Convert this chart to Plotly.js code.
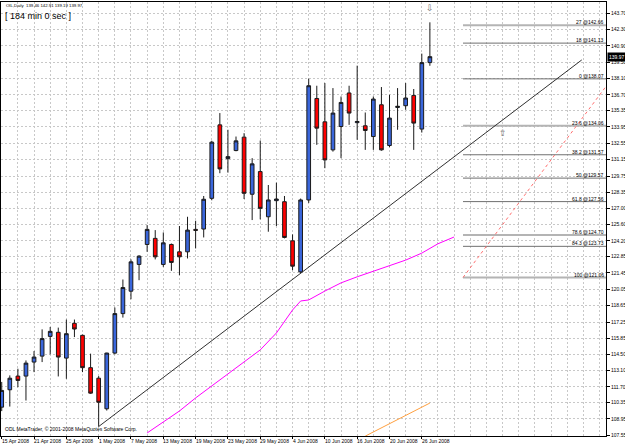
<!DOCTYPE html>
<html><head><meta charset="utf-8">
<script src="https://cdn.plot.ly/plotly-3.0.1.min.js"></script>
<style>html,body{margin:0;padding:0;background:#fff}#chart{width:625px;height:445px}</style>
</head><body><div id="chart"></div>
<script>
// ---- data ----
const dates = ["15 Apr","16 Apr","17 Apr","18 Apr","21 Apr","22 Apr","23 Apr","24 Apr","25 Apr",
  "28 Apr","29 Apr","30 Apr","1 May","2 May","5 May","6 May","7 May","8 May","9 May",
  "12 May","13 May","14 May","15 May","16 May","19 May","20 May","21 May","22 May","23 May",
  "26 May","27 May","28 May","29 May","30 May","2 Jun","3 Jun","4 Jun","5 Jun","6 Jun",
  "9 Jun","10 Jun","11 Jun","12 Jun","13 Jun","16 Jun","17 Jun","18 Jun","19 Jun","20 Jun",
  "23 Jun","24 Jun","25 Jun","26 Jun","27 Jun"];
const open  = [109.96,111.45,112.62,112.62,113.82,114.33,116.02,116.37,114.16,117.14,116.11,113.34,112.44,109.82,114.59,117.97,119.89,122.18,123.89,
  124.41,122.18,123.89,123.26,123.26,125.18,125.21,127.84,134.13,131.24,131.93,133.08,128.19,130.13,126.26,127.64,127.55,124.20,121.54,127.70,
  136.39,134.39,131.99,133.99,136.86,134.32,134.05,133.13,135.85,132.36,135.62,135.77,136.65,133.77,139.46];
const high  = [112.12,112.68,113.25,113.96,114.76,116.62,116.82,116.77,117.46,117.46,116.17,114.54,112.62,114.62,118.49,120.89,122.61,122.97,125.55,
  125.12,124.92,123.97,125.47,126.26,125.92,128.04,132.77,135.14,133.71,133.13,133.42,131.28,132.79,128.98,129.18,128.04,124.75,127.82,138.08,
  137.48,137.71,137.28,136.56,137.48,139.20,135.19,136.56,137.37,136.71,137.28,137.71,137.20,140.23,142.91];
const low   = [109.62,110.01,111.67,110.53,112.96,113.82,114.48,112.59,112.39,115.96,112.96,111.10,108.30,109.67,114.48,117.63,119.20,120.83,123.26,
  122.61,121.97,121.63,121.26,122.69,123.55,124.49,127.67,129.99,130.04,131.87,127.78,125.98,126.04,124.98,125.47,124.41,121.69,121.42,127.45,
  132.42,130.42,131.84,131.28,134.13,132.85,131.99,131.99,131.92,132.22,133.71,135.42,131.99,133.47,139.19];
const close = [111.39,112.44,112.25,113.73,114.25,115.83,116.45,114.25,116.25,116.65,113.34,111.16,110.38,114.59,117.97,120.20,122.40,122.89,125.18,
  122.83,124.03,122.35,122.83,125.12,125.10,127.76,132.65,130.36,131.41,132.76,128.27,130.79,126.98,127.70,127.78,124.49,122.03,127.70,137.48,
  133.85,131.13,135.14,136.05,135.14,134.42,133.65,136.34,131.99,134.71,135.72,136.43,134.28,139.46,139.97];

const dateLabels = ["15 Apr 2008","21 Apr 2008","25 Apr 2008","1 May 2008","7 May 2008","13 May 2008",
  "19 May 2008","23 May 2008","29 May 2008","4 Jun 2008","10 Jun 2008","16 Jun 2008","20 Jun 2008","26 Jun 2008"];
const priceTicks = [143.70,142.30,140.90,139.50,138.10,136.70,135.35,133.95,132.55,131.15,129.75,128.35,127.00,
  125.60,124.20,122.85,121.45,120.05,118.65,117.25,115.85,114.50,113.10,111.70,110.35,108.95,107.55];

const fibLevels = ["27","18","0","23.6","38.2","50","61.8","78.6","84.3","100"];
const fibPrices = [142.66,141.13,138.07,134.06,131.57,129.57,127.56,124.70,123.73,121.06];
const fibStartX = 57.1;

const trendX = [12, 71.8];
const trendY = [108.30, 139.69];
const fibLineX = [57.1, 75.5];
const fibLineY = [121.06, 138.07];

const maX = [18,20,22,24,26,28,30,32,34,36,37,38,40,42,44,46,48,50,52,54,56];
const maY = [107.75,108.69,109.63,110.75,111.77,112.80,113.83,114.86,116.31,118.28,119.05,119.14,119.90,120.60,121.12,121.60,122.05,122.55,123.15,123.95,124.53];
const orX = [45,48,50,53];
const orY = [107.48,108.52,109.20,110.31];

const arrowX = [53, 62];
const arrowY = [144.14, 133.43];
const arrowGlyph = ["\u21e9","\u21e7"];

const title = "OIL,Daily  139.46 142.91 139.19 139.97";
const timer = "[ 184 min 0 sec ]";
const copyright = "ODL MetaTrader, \u00a9 2001-2008 MetaQuotes Software Corp.";
const lastPrice = 139.97;

// ---- build ----
const idx = dates.map((d,i)=>i);
const FONT = "Liberation Sans, Arial, sans-serif";
const traces = [];

const thick = new Set(["27","23.6","78.6","100"]);
fibPrices.forEach((p,i)=>{
  const t = thick.has(fibLevels[i]);
  traces.push({type:'scatter',mode:'lines',x:[fibStartX,80],y:[p,p],
    line:{color:t?'#b4b4b4':'#707070',width:t?2:1},hoverinfo:'skip',showlegend:false});
});
traces.push({type:'scatter',mode:'lines',x:fibLineX,y:fibLineY,line:{color:'#ff7070',width:1,dash:'dot'},showlegend:false});
traces.push({type:'scatter',mode:'lines',x:maX,y:maY,line:{color:'#ff00ff',width:1},showlegend:false});
traces.push({type:'scatter',mode:'lines',x:orX,y:orY,line:{color:'#ffa040',width:1},showlegend:false});
traces.push({type:'scatter',mode:'lines',x:trendX,y:trendY,line:{color:'#303030',width:1},showlegend:false});
traces.push({type:'candlestick',x:idx,open:open,high:high,low:low,close:close,
  increasing:{line:{color:'#1a1a1a',width:1},fillcolor:'#3a66db'},
  decreasing:{line:{color:'#1a1a1a',width:1},fillcolor:'#ff0000'},
  whiskerwidth:0,showlegend:false});

const majorTicks=[];
for(let i=0;i<dateLabels.length;i++) majorTicks.push(i*4);

const annotations = [];
dateLabels.forEach((d,i)=>{
  annotations.push({xref:'x',yref:'paper',x:i*4,y:0,xanchor:'left',yanchor:'top',yshift:-1,xshift:-1,
    text:d,showarrow:false,font:{family:FONT,size:5,color:'#000'},borderpad:0});
});
fibPrices.forEach((p,i)=>{
  annotations.push({xref:'paper',yref:'y',x:1,y:p,xanchor:'right',yanchor:'bottom',xshift:-1,yshift:-1,
    text:fibLevels[i]+" @"+p.toFixed(2),showarrow:false,font:{family:FONT,size:5,color:'#000'},borderpad:0});
});
arrowX.forEach((x,i)=>annotations.push({x:x,y:arrowY[i],text:arrowGlyph[i],showarrow:false,
  font:{family:'DejaVu Sans',size:9,color:'#707070'}}));
annotations.push({xref:'paper',yref:'y',x:1,y:lastPrice,xanchor:'left',yanchor:'middle',xshift:1,
  text:lastPrice.toFixed(2),showarrow:false,bgcolor:'#000',font:{family:FONT,size:5,color:'#fff'},borderpad:1});
annotations.push({xref:'paper',yref:'paper',x:0.005,y:0.9908,xanchor:'left',yanchor:'middle',text:title,
  showarrow:false,font:{family:FONT,size:4.3,color:'#000'}});
annotations.push({xref:'paper',yref:'paper',x:0.003,y:0.9677,xanchor:'left',yanchor:'middle',text:timer,
  showarrow:false,font:{family:FONT,size:9,color:'#000'}});
annotations.push({xref:'paper',yref:'paper',x:0.004,y:0.0161,xanchor:'left',yanchor:'middle',text:copyright,
  showarrow:false,font:{family:FONT,size:5,color:'#000'}});

const gridc = '#c8c8c8';
const layout = {
  width:625,height:445,margin:{l:1,r:19,t:2,b:9,pad:0},
  paper_bgcolor:'#fff',plot_bgcolor:'#fff',showlegend:false,boxgap:0.35,
  xaxis:{type:'linear',range:[-0.09,74.8],tickmode:'array',tickvals:majorTicks,ticktext:majorTicks.map(()=>''),
    ticks:'outside',ticklen:2,tickcolor:'#000',showticklabels:true,
    tickfont:{family:FONT,size:5,color:'#000'},showgrid:true,gridcolor:gridc,griddash:'2px,2px',gridwidth:1,
    minor:{tick0:0,dtick:2,showgrid:true,gridcolor:gridc,griddash:'2px,2px',gridwidth:1},
    showline:true,mirror:true,linecolor:'#000',linewidth:1,zeroline:false,rangeslider:{visible:false},fixedrange:true},
  yaxis:{side:'right',range:[107.49,144.65],tickmode:'array',tickvals:priceTicks,ticktext:priceTicks.map(v=>v.toFixed(2)),
    ticks:'outside',ticklen:3,tickcolor:'#000',tickfont:{family:FONT,size:5,color:'#000'},
    showgrid:true,gridcolor:gridc,griddash:'2px,2px',gridwidth:1,
    showline:true,mirror:true,linecolor:'#000',linewidth:1,zeroline:false,fixedrange:true},
  annotations:annotations
};
Plotly.newPlot('chart',traces,layout,{staticPlot:true,displayModeBar:false});
</script></body></html>
